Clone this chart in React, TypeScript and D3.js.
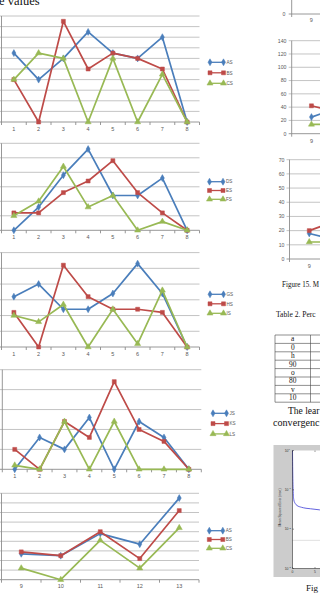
import React from "react";
import * as d3 from "d3";

const W = 320;
const H = 604;

const BLUE = "#4A7EBB";
const RED = "#BE4B48";
const GREEN = "#98B954";

// ---------- Left column data ----------
const cats1 = ["1", "2", "3", "4", "5", "6", "7", "8"];
const c1AS = [65, 40, 60, 85, 65, 60, 80, 0];
const c1BS = [40, 0, 95, 50, 65, 60, 50, 0];
const c1CS = [40, 65, 60, 0, 60, 0, 45, 0];

const c2DS = [0, 16, 38, 56, 24, 24, 36, 0];
const c2ES = [12, 12, 26, 34, 48, 26, 12, 0];
const c2FS = [10, 20, 44, 16, 24, 0, 6, 0];

const c3GS = [32, 40, 24, 24, 34, 53, 34, 0];
const c3HS = [22, 0, 52, 32, 24, 24, 22, 0];
const c3IS = [20, 16, 27, 0, 24, 2, 36, 0];

const c4JS = [0, 16, 10, 26, 0, 24, 16, 0];
const c4KS = [10, 0, 24, 16, 44, 20, 14, 0];
const c4LS = [2, 0, 24, 0, 24, 0, 0, 0];

const cats5 = ["9", "10", "11", "12", "13"];
const c5AS = [27, 25, 48, 37, 85];
const c5BS = [29, 25, 50, 22, 72];
const c5CS = [12, 0, 41, 12, 54];

// ---------- Right column data ----------
const catsR = ["9", "10", "11", "12", "13"];
const r2AS = [25, 46];
const r2BS = [42, 27];
const r2CS = [14, 14];
const r3AS = [18, 11];
const r3BS = [20, 30];
const r3CS = [12, 12];

const tableRows = ["a", "0", "h", "90", "o", "80", "v", "10"];

const mseEpochs = [0, 0.05, 0.15, 0.3, 0.6, 1, 2, 3, 4, 5, 6, 8, 10];
const mseValues = [1.0, 0.3, 0.09, 0.055, 0.045, 0.04, 0.036, 0.034, 0.033, 0.032, 0.031, 0.03, 0.029];
const mseGoal = 0.0052;
const mseTicks = [1, 0.1, 0.01, 0.001];
const mseTickLabels = ["10", "10", "10", "10"];
const mseTickExps = ["0", "-1", "-2", "-3"];

type Marker = "diamond" | "square" | "triangle";
type SeriesDef = { name: string; values: number[]; color: string; marker: Marker };

const symType = (m: Marker) =>
  m === "diamond" ? d3.symbolDiamond : m === "square" ? d3.symbolSquare : d3.symbolTriangle;
const symSize = (m: Marker) => (m === "diamond" ? 14 : m === "square" ? 16 : 16);

function SeriesMark({ pts, color, marker, width = 1.7 }: { pts: [number, number][]; color: string; marker: Marker; width?: number }) {
  const line = d3.line<[number, number]>()(pts) || "";
  const sym = d3.symbol().type(symType(marker)).size(symSize(marker))() || "";
  return (
    <g>
      <path d={line} fill="none" stroke={color} strokeWidth={width} strokeLinejoin="round" />
      {pts.map((p, i) => (
        <path key={i} d={sym} transform={`translate(${p[0]},${p[1]})`} fill={color} stroke={color} strokeWidth={0.5} />
      ))}
    </g>
  );
}

type LeftProps = {
  cats: string[];
  series: SeriesDef[];
  yMax: number;
  yStep: number;
  top: number;
  bottom: number;
  x0: number;
  x1: number;
  labelY: number;
  legendX: number;
  legendY0: number;
  legendDY: number;
};

function LeftChart(p: LeftProps) {
  const x = d3.scaleBand().domain(p.cats).range([p.x0, p.x1]);
  const y = d3.scaleLinear().domain([0, p.yMax]).range([p.bottom, p.top]);
  const ticks = d3.range(0, p.yMax + p.yStep / 2, p.yStep);
  const bw = x.bandwidth();
  return (
    <g>
      {ticks.map((t) => (
        <line key={t} x1={p.x0 - 3} x2={p.x1} y1={y(t)} y2={y(t)} stroke={t === 0 ? "#8c8c8c" : "#bdbdbd"} strokeWidth={0.9} />
      ))}
      <line x1={p.x0} x2={p.x0} y1={p.top} y2={p.bottom} stroke="#8c8c8c" strokeWidth={0.9} />
      {d3.range(p.cats.length + 1).map((i) => (
        <line key={i} x1={p.x0 + i * bw} x2={p.x0 + i * bw} y1={p.bottom} y2={p.bottom + 3} stroke="#8c8c8c" strokeWidth={0.9} />
      ))}
      {p.cats.map((c) => (
        <text key={c} x={(x(c) || 0) + bw / 2} y={p.labelY + 2} fontSize={5.5} fill="#595959" textAnchor="middle" fontFamily="Liberation Sans, Arial, sans-serif">
          {c}
        </text>
      ))}
      {p.series.map((s) => (
        <SeriesMark
          key={s.name}
          color={s.color}
          marker={s.marker}
          pts={s.values.map((v, i) => [(x(p.cats[i]) || 0) + bw / 2, y(v)] as [number, number])}
        />
      ))}
      {p.series.map((s, i) => {
        const ly = p.legendY0 + i * p.legendDY;
        return (
          <g key={s.name}>
            <SeriesMark color={s.color} marker={s.marker} width={1.3} pts={[[p.legendX, ly], [p.legendX + 13.5, ly]]} />
            <text x={p.legendX + 16.5} y={ly + 1.7} fontSize={4.6} fill="#595959" fontFamily="Liberation Sans, Arial, sans-serif">
              {s.name}
            </text>
          </g>
        );
      })}
    </g>
  );
}

type RightProps = {
  cats: string[];
  series: SeriesDef[];
  yMax: number;
  yStep: number;
  top: number;
  bottom: number;
  x0: number;
  bw: number;
  labelX: number;
  catY: number;
};

function RightChart(p: RightProps) {
  const x = d3.scaleBand().domain(p.cats).range([p.x0, p.x0 + p.bw * p.cats.length]);
  const y = d3.scaleLinear().domain([0, p.yMax]).range([p.bottom, p.top]);
  const ticks = d3.range(0, p.yMax + p.yStep / 2, p.yStep);
  const bw = x.bandwidth();
  return (
    <g>
      {ticks.map((t) => (
        <g key={t}>
          <line x1={p.x0 - 3} x2={W + 5} y1={y(t)} y2={y(t)} stroke={t === 0 ? "#8c8c8c" : "#bdbdbd"} strokeWidth={0.9} />
          <text x={p.labelX} y={y(t) + 1.8} fontSize={5.2} fill="#595959" textAnchor="end" fontFamily="Liberation Sans, Arial, sans-serif">
            {t}
          </text>
        </g>
      ))}
      <line x1={p.x0} x2={p.x0} y1={p.top} y2={p.bottom} stroke="#8c8c8c" strokeWidth={0.9} />
      {d3.range(p.cats.length + 1).map((i) => (
        <line key={i} x1={p.x0 + i * bw} x2={p.x0 + i * bw} y1={p.bottom} y2={p.bottom + 3} stroke="#8c8c8c" strokeWidth={0.9} />
      ))}
      {p.cats
        .filter((c) => (x(c) || 0) + bw / 2 + 4 < W)
        .map((c) => (
          <text key={c} x={(x(c) || 0) + bw / 2} y={p.catY + 2} fontSize={5.5} fill="#595959" textAnchor="middle" fontFamily="Liberation Sans, Arial, sans-serif">
            {c}
          </text>
        ))}
      {p.series.map((s) => (
        <SeriesMark
          key={s.name}
          color={s.color}
          marker={s.marker}
          pts={s.values.map((v, i) => [(x(p.cats[i]) || 0) + bw / 2, y(v)] as [number, number])}
        />
      ))}
    </g>
  );
}

function MseFigure() {
  const bx = 273.5, by = 445, bh = 132;
  const px = 292.5, pt = 450.5, pb = 568.5;
  const x = d3.scaleLinear().domain([0, 10]).range([px, px + 45]);
  const y = d3.scaleLog().domain([0.001, 1]).range([pb, pt]);
  const line = d3.line<number>()
    .x((_, i) => x(mseEpochs[i]))
    .y((d) => y(d))
    .curve(d3.curveMonotoneX)(mseValues) || "";
  return (
    <g>
      <rect x={bx} y={by} width={W - bx + 5} height={bh} fill="#cccccc" />
      <rect x={px} y={pt} width={W - px + 5} height={pb - pt} fill="#ffffff" />
      <line x1={px} x2={W} y1={y(mseGoal)} y2={y(mseGoal)} stroke="#b0b0b0" strokeWidth={0.8} strokeDasharray="1,1" />
      <path d={line} fill="none" stroke="#3b3bd6" strokeWidth={0.8} />
      <line x1={px} x2={px} y1={pt} y2={pb} stroke="#333" strokeWidth={0.6} />
      <line x1={px} x2={W} y1={pb} y2={pb} stroke="#333" strokeWidth={0.6} />
      {mseTicks.map((t, i) => (
        <g key={t}>
          <line x1={px} x2={px + 1.5} y1={y(t)} y2={y(t)} stroke="#333" strokeWidth={0.5} />
          <text x={px - 4} y={y(t) + 1.2} fontSize={3.4} fill="#333" textAnchor="end" fontFamily="Liberation Sans, Arial, sans-serif">
            {mseTickLabels[i]}
          </text>
          <text x={px - 3.9} y={y(t) - 0.5} fontSize={2.4} fill="#333" fontFamily="Liberation Sans, Arial, sans-serif">
            {mseTickExps[i]}
          </text>
        </g>
      ))}
      {[0, 5].map((t) => (
        <g key={t}>
          <line x1={x(t)} x2={x(t)} y1={pb} y2={pb - 1.5} stroke="#333" strokeWidth={0.5} />
          <line x1={x(t)} x2={x(t)} y1={pt} y2={pt + 1.5} stroke="#333" strokeWidth={0.5} />
          <text x={x(t)} y={pb + 4} fontSize={3.4} fill="#333" textAnchor="middle" fontFamily="Liberation Sans, Arial, sans-serif">
            {t}
          </text>
        </g>
      ))}
      <text
        transform={`translate(280.5,${(pt + pb) / 2 - 2}) rotate(-90)`}
        fontSize={3.2}
        fill="#333"
        textAnchor="middle"
        fontFamily="Liberation Sans, Arial, sans-serif"
      >
        Mean Squared Error (mse)
      </text>
    </g>
  );
}

export default function App() {
  const serif = "Liberation Serif, Times New Roman, serif";
  const s1: SeriesDef[] = [
    { name: "AS", values: c1AS, color: BLUE, marker: "diamond" },
    { name: "BS", values: c1BS, color: RED, marker: "square" },
    { name: "CS", values: c1CS, color: GREEN, marker: "triangle" },
  ];
  const s2: SeriesDef[] = [
    { name: "DS", values: c2DS, color: BLUE, marker: "diamond" },
    { name: "ES", values: c2ES, color: RED, marker: "square" },
    { name: "FS", values: c2FS, color: GREEN, marker: "triangle" },
  ];
  const s3: SeriesDef[] = [
    { name: "GS", values: c3GS, color: BLUE, marker: "diamond" },
    { name: "HS", values: c3HS, color: RED, marker: "square" },
    { name: "IS", values: c3IS, color: GREEN, marker: "triangle" },
  ];
  const s4: SeriesDef[] = [
    { name: "JS", values: c4JS, color: BLUE, marker: "diamond" },
    { name: "KS", values: c4KS, color: RED, marker: "square" },
    { name: "LS", values: c4LS, color: GREEN, marker: "triangle" },
  ];
  const s5: SeriesDef[] = [
    { name: "AS", values: c5AS, color: BLUE, marker: "diamond" },
    { name: "BS", values: c5BS, color: RED, marker: "square" },
    { name: "CS", values: c5CS, color: GREEN, marker: "triangle" },
  ];
  const sr2: SeriesDef[] = [
    { name: "AS", values: r2AS, color: BLUE, marker: "diamond" },
    { name: "BS", values: r2BS, color: RED, marker: "square" },
    { name: "CS", values: r2CS, color: GREEN, marker: "triangle" },
  ];
  const sr3: SeriesDef[] = [
    { name: "AS", values: r3AS, color: BLUE, marker: "diamond" },
    { name: "BS", values: r3BS, color: RED, marker: "square" },
    { name: "CS", values: r3CS, color: GREEN, marker: "triangle" },
  ];

  const tTop = 335, tRow = 8.4, tLeft = 275, tSep = 310.5;

  return (
    <>
      <style>{`body{margin:0;background:#fff}`}</style>
      <svg width={W} height={H} viewBox={`0 0 ${W} ${H}`} style={{ display: "block", background: "#fff" }}>
        <text x={-1} y={4.5} fontSize={12.5} fontFamily={serif} fill="#111">e values</text>

        <LeftChart cats={cats1} series={s1} yMax={100} yStep={10} top={16} bottom={122} x0={1.5} x1={199.5} labelY={128.5} legendX={210} legendY0={62.3} legendDY={10.5} />
        <LeftChart cats={cats1} series={s2} yMax={60} yStep={10} top={143.3} bottom={230.3} x0={1.5} x1={199.5} labelY={236.8} legendX={209.5} legendY0={181.7} legendDY={8.8} />
        <LeftChart cats={cats1} series={s3} yMax={60} yStep={10} top={252.6} bottom={347} x0={1.5} x1={199.5} labelY={354.3} legendX={210} legendY0={294.3} legendDY={9.5} />
        <LeftChart cats={cats1} series={s4} yMax={50} yStep={10} top={369.7} bottom={469.3} x0={2.3} x1={201.3} labelY={475.8} legendX={213} legendY0={413.3} legendDY={10.3} />
        <LeftChart cats={cats5} series={s5} yMax={90} yStep={10} top={493.3} bottom={579.7} x0={1.5} x1={199} labelY={586} legendX={209.3} legendY0={530.7} legendDY={8.8} />

        {/* right column */}
        <line x1={291.7} x2={291.7} y1={0} y2={14} stroke="#8c8c8c" strokeWidth={0.9} />
        <line x1={288.7} x2={W} y1={14} y2={14} stroke="#8c8c8c" strokeWidth={0.9} />
        <line x1={291.7} x2={291.7} y1={14} y2={17} stroke="#8c8c8c" strokeWidth={0.9} />
        <text x={285.5} y={15.8} fontSize={5.2} fill="#595959" textAnchor="end" fontFamily="Liberation Sans, Arial, sans-serif">0</text>
        <text x={311.2} y={22} fontSize={5.5} fill="#595959" textAnchor="middle" fontFamily="Liberation Sans, Arial, sans-serif">9</text>

        <RightChart cats={catsR} series={sr2} yMax={140} yStep={20} top={40.7} bottom={133.7} x0={291.7} bw={39.5} labelX={286.5} catY={140.5} />
        <RightChart cats={catsR} series={sr3} yMax={70} yStep={10} top={159.7} bottom={259} x0={289.5} bw={39.5} labelX={284.5} catY={265.8} />

        <text x={282} y={286.5} fontSize={9} fontFamily={serif} fill="#111" textLength={37} lengthAdjust="spacingAndGlyphs">Figure 15. M</text>

        <text x={276} y={316.5} fontSize={7.6} fontFamily={serif} fill="#111">Table 2. Perc</text>
        <g>
          {d3.range(tableRows.length + 1).map((i) => (
            <line key={i} x1={tLeft} x2={W} y1={tTop + i * tRow} y2={tTop + i * tRow} stroke="#444" strokeWidth={0.6} />
          ))}
          <line x1={tLeft} x2={tLeft} y1={tTop} y2={tTop + tableRows.length * tRow} stroke="#444" strokeWidth={0.6} />
          <line x1={tSep} x2={tSep} y1={tTop} y2={tTop + tableRows.length * tRow} stroke="#444" strokeWidth={0.6} />
          {tableRows.map((r, i) => (
            <text key={i} x={(tLeft + tSep) / 2} y={tTop + i * tRow + 6.4} fontSize={7.4} fontFamily={serif} fill="#111" textAnchor="middle">
              {r}
            </text>
          ))}
        </g>

        <text x={288} y={413.5} fontSize={10.5} fontFamily={serif} fill="#111" textLength={31.5} lengthAdjust="spacingAndGlyphs">The lear</text>
        <text x={273} y={426} fontSize={10.5} fontFamily={serif} fill="#111" textLength={46.5} lengthAdjust="spacingAndGlyphs">convergenc</text>

        <MseFigure />

        <text x={306} y={591} fontSize={9} fontFamily={serif} fill="#111">Fig</text>
      </svg>
    </>
  );
}
